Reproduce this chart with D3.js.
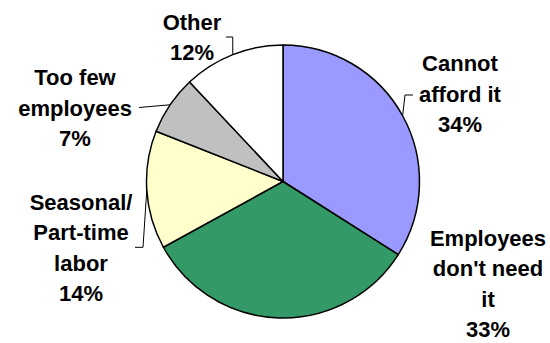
<!DOCTYPE html>
<html>
<head>
<meta charset="utf-8">
<script src="https://cdn.jsdelivr.net/npm/d3@7"></script>
<style>
    body { margin: 0; background: #fff; }
    .sliceLabels { font-family: Arial, "Liberation Sans", sans-serif; font-weight: bold; font-size: 22px; fill: #000; }
</style>
</head>
<body>
<div id="container-svg"></div>
<script>

var categories = ["Cannot afford it", "Employees don't need it", "Seasonal/Part-time labor", "Too few employees", "Other"];
var shares = [34, 33, 14, 7, 12];
var label_lines = [
    ["Cannot", "afford it"],
    ["Employees", "don't need", "it"],
    ["Seasonal/", "Part-time", "labor"],
    ["Too few", "employees"],
    ["Other"]
];
var palette = ["#9999FF", "#339966", "#FFFFCC", "#C0C0C0", "#FFFFFF"];

// *********************** GLOBAL DISPLAY VARS ***********************
var svg_width = 550,
    svg_height = 343,
    CX = 283,
    CY = 181.5,
    R = 136.5,
    LINE_H = 30.5;

// label spot (centre x, centre y of first line) relative to pie centre
var label_spots = [[177, -118.5], [205, 56], [-202, 20], [-208, -104.5], [-91, -160]];
// leader start on the label side; line then runs to the slice mid angle on the rim
var leader_pts = [
    [[130, -86.5], "v"],
    null,
    [[-148, 65.8], "v"],
    [[-144, -74], "d"],
    [[-57, -144.5], "v"]
];

var body = d3.select("#container-svg");
var svg = body.append("svg")
    .attr("width", svg_width)
    .attr("height", svg_height);

var g = svg.append("g").attr("transform", "translate(" + CX + "," + CY + ")");

// ***************************** PIE *****************************
var pie = d3.pie().sort(null).value(function(d) { return d; });
var arcs = pie(shares);

var arc = d3.arc().innerRadius(0).outerRadius(R);

g.selectAll("path.slice")
    .data(arcs)
    .enter()
    .append("path")
    .attr("class", "slice")
    .attr("d", arc)
    .attr("fill", function(d, i) { return palette[i]; })
    .attr("stroke", "#000")
    .attr("stroke-width", 1.5)
    .attr("stroke-linejoin", "round");

// ************************** LEADER LINES ***************************
for (var i = 0; i < arcs.length; i++) {
    if (!leader_pts[i]) continue;
    var mid = (arcs[i].startAngle + arcs[i].endAngle) / 2;
    var ex = R * Math.sin(mid),
        ey = -R * Math.cos(mid);
    var p0 = leader_pts[i][0];
    var pts = [p0];
    if (leader_pts[i][1] == "v") {
        // short horizontal tick, then down/up to the rim
        pts.push([p0[0] > 0 ? Math.max(ex, p0[0] - 8) : Math.min(ex, p0[0] + 8), p0[1]]);
    }
    pts.push([ex, ey]);
    g.append("path")
        .attr("d", d3.line()(pts))
        .attr("fill", "none")
        .attr("stroke", "#000")
        .attr("stroke-width", 1);
}

// **************************** LABELS *****************************
for (var i = 0; i < arcs.length; i++) {
    var lines = label_lines[i].concat([shares[i] + "%"]);
    var txt = g.append("text")
        .attr("class", "sliceLabels")
        .attr("text-anchor", "middle");
    for (var j = 0; j < lines.length; j++) {
        txt.append("tspan")
            .attr("x", label_spots[i][0])
            .attr("y", label_spots[i][1] + j * LINE_H + 8)
            .text(lines[j]);
    }
}
</script>
</body>
</html>
